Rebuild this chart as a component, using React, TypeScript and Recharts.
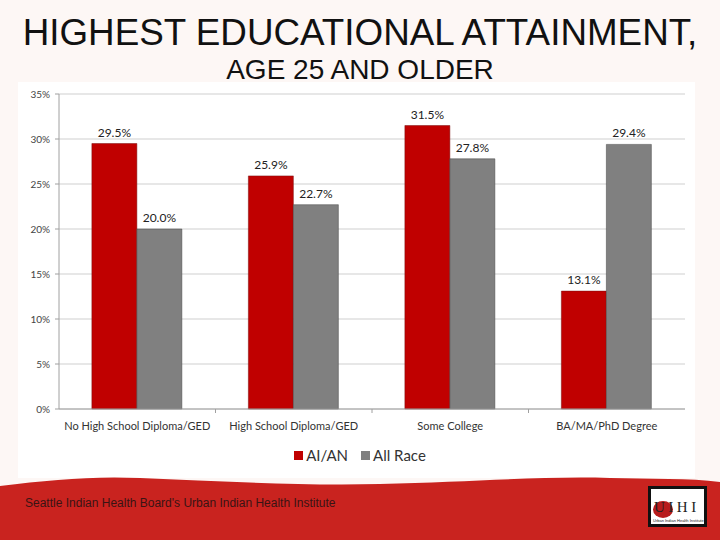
import { Bar, BarChart, CartesianGrid, LabelList, Legend, XAxis, YAxis } from "recharts";

const categories = ["No High School Diploma/GED", "High School Diploma/GED", "Some College", "BA/MA/PhD Degree"];
const aian = [29.5, 25.9, 31.5, 13.1];
const allRace = [20.0, 22.7, 27.8, 29.4];
const yTicks = [0, 5, 10, 15, 20, 25, 30, 35];

const rows = categories.map((category, i) => ({ category, aian: aian[i], allRace: allRace[i] }));

const CHART_FONT = "Lato, 'Open Sans', sans-serif";
const RED = "#c00000";
const GREY = "#808080";

const pct = (v: unknown) => `${Number(v).toFixed(1)}%`;

// the reference puts its x tick marks between the categories, not under them
const CategoryTick = ({ x, y, payload, index }: any) => (
  <g>
    {index > 0 && <line x1={x - 78.25} x2={x - 78.25} y1={y - 8} y2={y - 4} stroke="#a0a0a0" />}
    <text x={x} y={y + 13} textAnchor="middle" fontSize={11} fill="#333">
      {payload.value}
    </text>
  </g>
);

const ChartLegend = () => (
  <div style={{ display: "flex", justifyContent: "center", alignItems: "center", fontFamily: CHART_FONT, fontSize: 15, color: "#333" }}>
    <span style={{ width: 9, height: 9, background: RED, marginRight: 3 }} />
    <span style={{ marginRight: 13 }}>AI/AN</span>
    <span style={{ width: 9, height: 9, background: GREY, marginRight: 3 }} />
    <span>All Race</span>
  </div>
);

const Logo = () => (
  <div style={{ position: "absolute", left: 648, top: 486, width: 53, height: 35, border: "3px solid #111", background: "#fff", fontFamily: "'Liberation Serif', serif" }}>
    <div style={{ position: "absolute", left: 2, top: 12, width: 20, height: 17, borderRadius: "50%", background: "#b81c1c" }} />
    <div style={{ position: "absolute", left: 3, top: 10, fontSize: 15, letterSpacing: 3.5, color: "#222", whiteSpace: "nowrap" }}>UIHI</div>
    <div style={{ position: "absolute", left: 2, top: 29, fontSize: 4, fontFamily: "'Liberation Sans', sans-serif", color: "#222", whiteSpace: "nowrap" }}>Urban Indian Health Institute</div>
  </div>
);

export default function App() {
  return (
    <div style={{ position: "absolute", left: 0, top: 0, width: 720, height: 540, overflow: "hidden", background: "#fdf7f5" }}>
      <svg width={720} height={540} style={{ position: "absolute", left: 0, top: 0 }}>
        <rect x={18} y={82} width={677} height={396} fill="#fff" />
        <path d="M0 516 V486 C50 480 90 476 140 478 C220 481 300 486 380 484 C470 482 540 476 610 478 C650 479 690 478 720 482 V540 H0 Z" fill="#c9231f" />
      </svg>
      <div style={{ position: "absolute", left: 0, top: 12, width: 720, textAlign: "center", fontFamily: "'Liberation Sans', sans-serif", fontSize: 36.8, color: "#111", whiteSpace: "nowrap" }}>
        HIGHEST EDUCATIONAL ATTAINMENT,
      </div>
      <div style={{ position: "absolute", left: 0, top: 54, width: 720, textAlign: "center", fontFamily: "'Liberation Sans', sans-serif", fontSize: 28, color: "#111", whiteSpace: "nowrap" }}>
        AGE 25 AND OLDER
      </div>
      <div style={{ position: "absolute", left: 0, top: 0 }}>
        <BarChart
          width={720}
          height={540}
          data={rows}
          barCategoryGap="21%"
          barGap={0}
          margin={{ top: 94, right: 35, bottom: 81, left: 0 }}
          style={{ fontFamily: CHART_FONT }}
        >
          <CartesianGrid vertical={false} stroke="#cfcfcf" />
          <XAxis dataKey="category" height={30} interval={0} stroke="#a0a0a0" tickLine={false} tick={<CategoryTick />} />
          <YAxis
            width={59}
            domain={[0, 35]}
            ticks={yTicks}
            tickFormatter={(v) => `${v}%`}
            stroke="#a0a0a0"
            tick={{ fontSize: 10, fill: "#444" }}
            tickSize={4}
            tickMargin={5}
          />
          <Legend
            verticalAlign="bottom"
            content={<ChartLegend />}
            wrapperStyle={{ top: 446, left: 0, bottom: "auto", width: 720, height: 20 }}
          />
          <Bar dataKey="aian" name="AI/AN" fill={RED} stroke="#7a1010" strokeWidth={0.5} isAnimationActive={false}>
            <LabelList dataKey="aian" position="top" formatter={pct} offset={7} style={{ fontSize: 12, fill: "#222" }} />
          </Bar>
          <Bar dataKey="allRace" name="All Race" fill={GREY} stroke="#444" strokeWidth={0.5} isAnimationActive={false}>
            <LabelList dataKey="allRace" position="top" formatter={pct} offset={7} style={{ fontSize: 12, fill: "#222" }} />
          </Bar>
        </BarChart>
      </div>
      <div style={{ position: "absolute", left: 25, top: 496, fontFamily: "'Liberation Sans', sans-serif", fontSize: 12, color: "#3a1414", whiteSpace: "nowrap" }}>
        Seattle Indian Health Board's Urban Indian Health Institute
      </div>
      <Logo />
    </div>
  );
}
